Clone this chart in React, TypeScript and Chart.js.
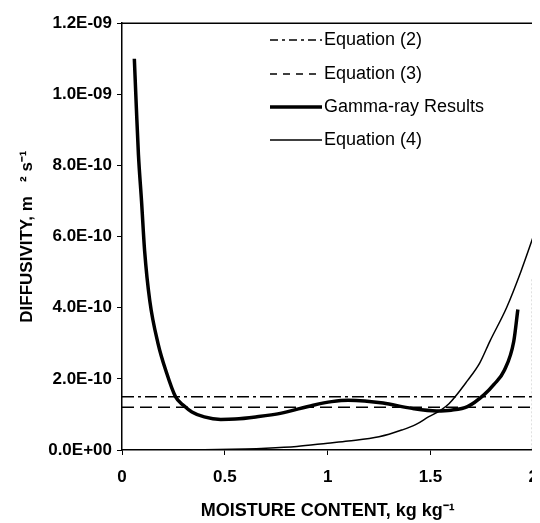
import React, { useEffect, useRef } from "react";
import { Chart, registerables } from "chart.js";

Chart.register(...registerables);

// ---- data ----
const gammaX = [0.06, 0.07, 0.08, 0.095, 0.11, 0.135, 0.175, 0.215, 0.26, 0.3, 0.34, 0.4, 0.48, 0.55, 0.65, 0.77, 0.93, 1.02, 1.1, 1.18, 1.27, 1.41, 1.53, 1.6, 1.68, 1.76, 1.81, 1.86, 1.905, 1.925];
const gammaY = [11.0e-10, 9.6e-10, 8.3e-10, 7.0e-10, 5.6e-10, 4.2e-10, 3.0e-10, 2.2e-10, 1.5e-10, 1.25e-10, 1.07e-10, 0.93e-10, 0.86e-10, 0.87e-10, 0.93e-10, 1.03e-10, 1.26e-10, 1.36e-10, 1.4e-10, 1.38e-10, 1.32e-10, 1.17e-10, 1.1e-10, 1.12e-10, 1.22e-10, 1.55e-10, 1.85e-10, 2.25e-10, 3.05e-10, 3.95e-10];

const eq4X = [0.15, 0.4, 0.6, 0.7, 0.85, 1.0, 1.1, 1.25, 1.36, 1.43, 1.49, 1.55, 1.59, 1.68, 1.74, 1.79, 1.87, 1.94, 2.0];
const eq4Y = [0.0, 0.01e-10, 0.03e-10, 0.05e-10, 0.1e-10, 0.19e-10, 0.25e-10, 0.37e-10, 0.56e-10, 0.72e-10, 0.93e-10, 1.12e-10, 1.3e-10, 1.95e-10, 2.45e-10, 3.07e-10, 4.0e-10, 5.02e-10, 6.0e-10];

const eqLineX = [0, 2];
const eq2Y = [1.5e-10, 1.5e-10];
const eq3Y = [1.2e-10, 1.2e-10];

const xTickValues = [0, 0.5, 1, 1.5, 2];
const xTickLabels = ["0", "0.5", "1", "1.5", "2"];
const yTickValues = [0, 2e-10, 4e-10, 6e-10, 8e-10, 1e-9, 1.2e-9];
const yTickLabels = ["0.0E+00", "2.0E-10", "4.0E-10", "6.0E-10", "8.0E-10", "1.0E-09", "1.2E-09"];

const legendLabels = ["Equation (2)", "Equation (3)", "Gamma-ray Results", "Equation (4)"];

const xTitle = "MOISTURE CONTENT, kg kg\u207B\u00B9";
const yTitle = "DIFFUSIVITY, m   \u00B2 s\u207B\u00B9";

const FONT = "'Liberation Sans', Arial, Helvetica, sans-serif";

const pts = (xs: number[], ys: number[]) => xs.map((x, i) => ({ x, y: ys[i] }));

const DASHDOT = [12, 4, 3, 4];
const DASHED = [12, 6];

const legendStyles = [
  { width: 1.5, dash: [8, 4, 3, 4] },
  { width: 1.5, dash: [7, 6] },
  { width: 3.5, dash: [] as number[] },
  { width: 1.5, dash: [] as number[] },
];

const framePlugin = {
  id: "frame",
  afterDatasetsDraw(chart: any) {
    const { ctx, chartArea } = chart;
    const ys = chart.scales.y;
    ctx.save();
    // top border
    ctx.strokeStyle = "#000";
    ctx.lineWidth = 1.5;
    ctx.beginPath();
    ctx.moveTo(chartArea.left, chartArea.top);
    ctx.lineTo(chartArea.right, chartArea.top);
    ctx.stroke();
    // faint dotted right border (lower part only, as in the scan)
    ctx.strokeStyle = "#777";
    ctx.lineWidth = 1;
    ctx.setLineDash([2, 2]);
    ctx.beginPath();
    ctx.moveTo(chartArea.right - 1, ys.getPixelForValue(4.8e-10));
    ctx.lineTo(chartArea.right - 1, chartArea.bottom);
    ctx.stroke();
    ctx.setLineDash([]);

    // legend
    const x0 = 262;
    const x1 = 314;
    const rows = [32, 66, 99, 132];
    ctx.fillStyle = "#000";
    ctx.font = `18px ${FONT}`;
    ctx.textBaseline = "middle";
    ctx.textAlign = "left";
    legendLabels.forEach((label, i) => {
      const st = legendStyles[i];
      ctx.strokeStyle = "#000";
      ctx.lineWidth = st.width;
      ctx.setLineDash(st.dash);
      ctx.beginPath();
      ctx.moveTo(x0, rows[i]);
      ctx.lineTo(x1, rows[i]);
      ctx.stroke();
      ctx.setLineDash([]);
      ctx.fillText(label, x1 + 2, rows[i]);
    });
    ctx.restore();
  },
};

export default function App() {
  const canvasRef = useRef<HTMLCanvasElement | null>(null);

  useEffect(() => {
    const canvas = canvasRef.current;
    if (!canvas) return;
    const chart = new Chart(canvas, {
      type: "scatter",
      data: {
        datasets: [
          {
            label: legendLabels[0],
            data: pts(eqLineX, eq2Y),
            showLine: true,
            borderColor: "#000",
            borderWidth: 1.5,
            borderDash: DASHDOT,
            pointRadius: 0,
          },
          {
            label: legendLabels[1],
            data: pts(eqLineX, eq3Y),
            showLine: true,
            borderColor: "#000",
            borderWidth: 1.5,
            borderDash: DASHED,
            pointRadius: 0,
          },
          {
            label: legendLabels[2],
            data: pts(gammaX, gammaY),
            showLine: true,
            borderColor: "#000",
            borderWidth: 3.5,
            pointRadius: 0,
            cubicInterpolationMode: "monotone",
          },
          {
            label: legendLabels[3],
            data: pts(eq4X, eq4Y),
            showLine: true,
            borderColor: "#000",
            borderWidth: 1.5,
            pointRadius: 0,
            cubicInterpolationMode: "monotone",
          },
        ] as any,
      },
      options: {
        animation: false,
        responsive: false,
        maintainAspectRatio: false,
        layout: { padding: { top: 12, right: 10, bottom: 0, left: 0 } },
        plugins: {
          legend: { display: false },
          tooltip: { enabled: false },
        },
        scales: {
          x: {
            type: "linear",
            min: 0,
            max: 2,
            afterBuildTicks: (scale: any) => {
              scale.ticks = xTickValues.map((v) => ({ value: v }));
            },
            afterFit: (scale: any) => {
              scale.height = 73;
            },
            ticks: {
              autoSkip: false,
              maxRotation: 0,
              padding: 12,
              color: "#000",
              font: { family: FONT, size: 17, weight: "bold" },
              callback: (_v: any, i: number) => xTickLabels[i],
            },
            grid: { drawOnChartArea: false, tickLength: 5, color: "#000", lineWidth: 1 },
            border: { color: "#000", width: 1.5 },
            title: {
              display: true,
              text: xTitle,
              color: "#000",
              font: { family: FONT, size: 18, weight: "bold" },
              padding: { top: 0, bottom: 1 },
            },
          },
          y: {
            type: "linear",
            min: 0,
            max: 1.2e-9,
            afterBuildTicks: (scale: any) => {
              scale.ticks = yTickValues.map((v) => ({ value: v }));
            },
            afterFit: (scale: any) => {
              scale.width = 114;
            },
            ticks: {
              autoSkip: false,
              padding: 5,
              color: "#000",
              font: { family: FONT, size: 17, weight: "bold" },
              callback: (_v: any, i: number) => yTickLabels[i],
            },
            grid: { drawOnChartArea: false, tickLength: 5, color: "#000", lineWidth: 1 },
            border: { color: "#000", width: 1.5 },
            title: {
              display: true,
              text: yTitle,
              color: "#000",
              font: { family: FONT, size: 17, weight: "bold" },
              padding: { top: 9, bottom: 0 },
            },
          },
        },
      } as any,
      plugins: [framePlugin],
    });
    return () => chart.destroy();
  }, []);

  return (
    <div style={{ width: 532, height: 515, overflow: "hidden", background: "#fff" }}>
      <canvas ref={canvasRef} width={542} height={515} style={{ display: "block", width: 542, height: 515 }} />
    </div>
  );
}
